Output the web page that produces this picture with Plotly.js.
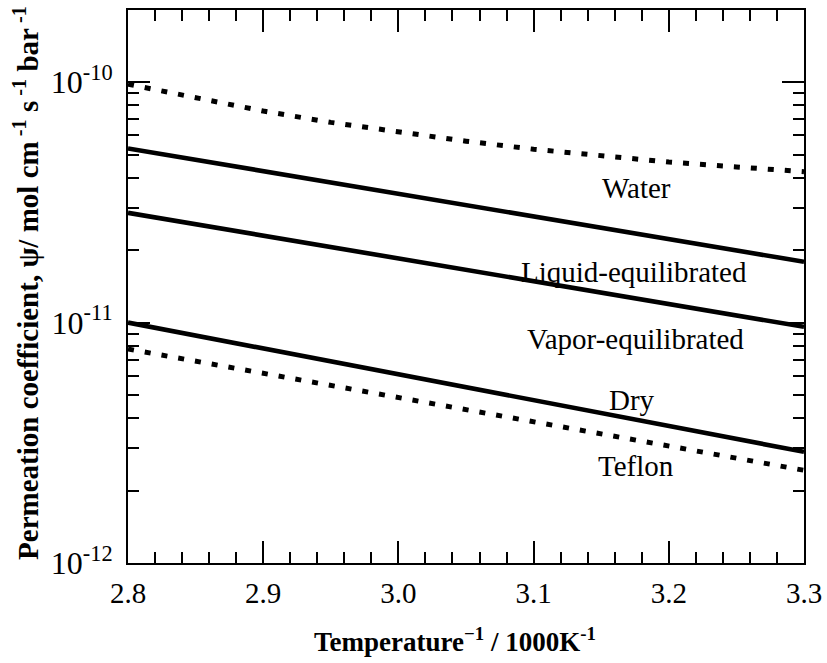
<!DOCTYPE html>
<html>
<head>
<meta charset="utf-8">
<script src="https://cdn.plot.ly/plotly-3.0.1.min.js"></script>
<style>html,body{margin:0;padding:0;background:#fff;}#chart{width:827px;height:663px;}</style>
</head>
<body>
<div id="chart"></div>
<script>
// Inverse temperature (1000/K)
const xWater = [2.80, 2.85, 2.90, 2.95, 3.00, 3.05, 3.10, 3.15, 3.20, 3.25, 3.30];
const water  = [9.8e-11, 8.59e-11, 7.58e-11, 6.80e-11, 6.21e-11, 5.68e-11, 5.26e-11, 4.92e-11, 4.65e-11, 4.44e-11, 4.24e-11];

const xMembrane = [2.8, 2.9, 3.0, 3.1, 3.2, 3.3];
const liquid = [5.30e-11, 4.27e-11, 3.43e-11, 2.76e-11, 2.22e-11, 1.79e-11];
const vapor  = [2.86e-11, 2.30e-11, 1.85e-11, 1.48e-11, 1.19e-11, 9.6e-12];
const dry    = [1.00e-11, 7.82e-12, 6.10e-12, 4.76e-12, 3.72e-12, 2.90e-12];
const teflon = [7.76e-12, 6.15e-12, 4.88e-12, 3.86e-12, 3.06e-12, 2.43e-12];

const yTickVals = [1e-12, 1e-11, 1e-10];
const yTickText = ["10<sup>-12</sup>", "10<sup>-11</sup>", "10<sup>-10</sup>"];

const labelTexts = ["Water", "Liquid-equilibrated", "Vapor-equilibrated", "Dry", "Teflon"];
const labelX = [3.176, 3.174, 3.175, 3.173, 3.176];
const labelLogY = [-10.441, -10.791, -11.069, -11.323, -11.597];

const xTitle = "<b>Temperature<sup>\u22121</sup> / 1000K<sup>-1</sup></b>";
const yTitle = "<b>Permeation coefficient, \u03c8/ mol cm<sup> -1</sup> s<sup> -1</sup> bar<sup> -1</sup></b>";

const FONT = "Liberation Serif";

const solid = {color: '#000', width: 4.6};
const dotted = {color: '#000', width: 5, dash: '6px,11px'};

const traces = [
  {x: xWater, y: water, mode: 'lines', line: dotted, name: 'Water'},
  {x: xMembrane, y: liquid, mode: 'lines', line: solid, name: 'Liquid-equilibrated'},
  {x: xMembrane, y: vapor, mode: 'lines', line: solid, name: 'Vapor-equilibrated'},
  {x: xMembrane, y: dry, mode: 'lines', line: solid, name: 'Dry'},
  {x: xMembrane, y: teflon, mode: 'lines', line: dotted, name: 'Teflon'}
];

const annotations = labelTexts.map((t, i) => ({
  x: labelX[i], y: labelLogY[i], xref: 'x', yref: 'y', text: t, showarrow: false,
  xanchor: 'center', yanchor: 'middle', font: {family: FONT, size: 29, color: '#000'}
}));
// axis titles
annotations.push({
  x: 0.484, y: -0.139, xref: 'paper', yref: 'paper', text: xTitle, showarrow: false,
  xanchor: 'center', yanchor: 'middle', font: {family: FONT, size: 27, color: '#000'}
});
annotations.push({
  x: -0.152, y: 0.507, xref: 'paper', yref: 'paper', text: yTitle, showarrow: false,
  textangle: -90, xanchor: 'center', yanchor: 'middle', font: {family: FONT, size: 29, color: '#000'}
});

const layout = {
  width: 827, height: 663,
  margin: {l: 128, r: 23, t: 10, b: 100},
  paper_bgcolor: '#fff', plot_bgcolor: '#fff',
  showlegend: false,
  font: {family: FONT, color: '#000'},
  xaxis: {
    range: [2.8, 3.3], tick0: 2.8, dtick: 0.1, tickformat: '.1f',
    ticks: 'inside', ticklen: 22, tickwidth: 2, tickcolor: '#000',
    showline: true, linewidth: 2, linecolor: '#000', mirror: 'allticks',
    showgrid: false, zeroline: false,
    tickfont: {family: FONT, size: 29, color: '#000'},
    ticklabelstandoff: 3,
    minor: {ticks: 'inside', ticklen: 11, tickwidth: 2, tickcolor: '#000', dtick: 0.02, showgrid: false}
  },
  yaxis: {
    type: 'log', range: [-12, -9.7],
    tickmode: 'array', tickvals: yTickVals, ticktext: yTickText,
    ticks: 'inside', ticklen: 22, tickwidth: 2, tickcolor: '#000',
    showline: true, linewidth: 2, linecolor: '#000', mirror: 'allticks',
    showgrid: false, zeroline: false,
    tickfont: {family: FONT, size: 32, color: '#000'},
    ticklabelstandoff: 7,
    minor: {ticks: 'inside', ticklen: 11, tickwidth: 2, tickcolor: '#000', tickmode: 'linear', dtick: 'D1', showgrid: false}
  },
  annotations: annotations
};

Plotly.newPlot('chart', traces, layout, {staticPlot: true, displayModeBar: false});
</script>
</body>
</html>
